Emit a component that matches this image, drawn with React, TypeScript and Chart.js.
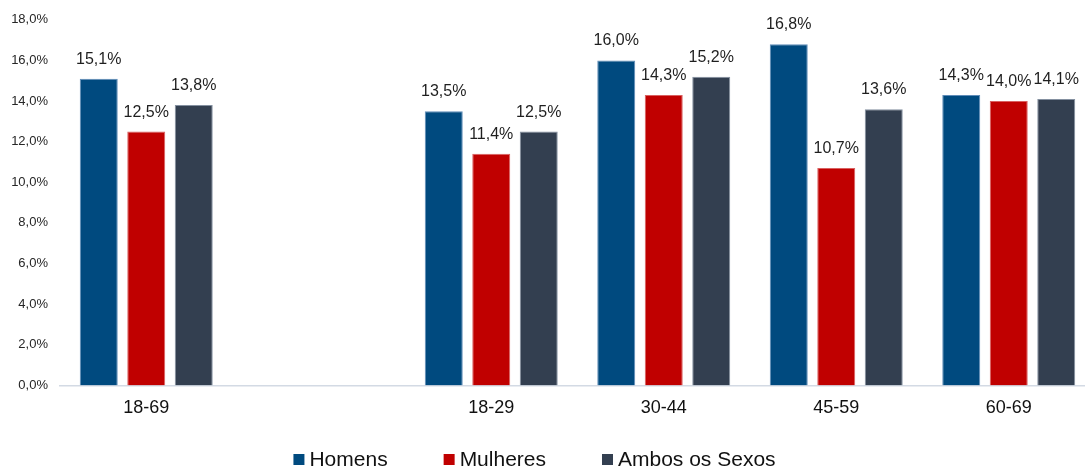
import React, { useEffect, useRef } from "react";
import { Chart, registerables } from "chart.js";

Chart.register(...registerables);

const categories = ["18-69", "", "18-29", "30-44", "45-59", "60-69"];
const homens = [15.1, null, 13.5, 16.0, 16.8, 14.3];
const mulheres = [12.5, null, 11.4, 14.3, 10.7, 14.0];
const ambos = [13.8, null, 12.5, 15.2, 13.6, 14.1];
const seriesNames = ["Homens", "Mulheres", "Ambos os Sexos"];
const yTicks = [0, 2, 4, 6, 8, 10, 12, 14, 16, 18];

const FONT = "'Liberation Sans', Arial, sans-serif";
const fmt = (v: number) => v.toFixed(1).replace(".", ",") + "%";

const dataLabelPlugin = {
  id: "dataLabels",
  afterDatasetsDraw(chart: any) {
    const ctx = chart.ctx;
    ctx.save();
    ctx.font = `16px ${FONT}`;
    ctx.fillStyle = "#1f1f1f";
    ctx.textAlign = "center";
    ctx.textBaseline = "alphabetic";
    chart.data.datasets.forEach((ds: any, i: number) => {
      const meta = chart.getDatasetMeta(i);
      meta.data.forEach((el: any, j: number) => {
        const v = ds.data[j];
        if (v === null || v === undefined) return;
        ctx.fillText(fmt(v), el.x, el.y - 15);
      });
    });
    ctx.restore();
  },
};

const legendPlugin = {
  id: "customLegend",
  afterDraw(chart: any) {
    const ctx = chart.ctx;
    ctx.save();
    ctx.font = `21px ${FONT}`;
    const box = 11;
    const gap = 5;
    const spacing = 56;
    const items = chart.data.datasets.map((ds: any) => ({
      label: ds.label,
      color: ds.backgroundColor,
      w: box + gap + ctx.measureText(ds.label).width,
    }));
    const total =
      items.reduce((s: number, it: any) => s + it.w, 0) + spacing * (items.length - 1);
    let x = 534.5 - total / 2;
    const baseline = 466;
    items.forEach((it: any) => {
      ctx.fillStyle = it.color;
      ctx.fillRect(x, 454, box, box);
      ctx.fillStyle = "#111";
      ctx.textAlign = "left";
      ctx.textBaseline = "alphabetic";
      ctx.fillText(it.label, x + box + gap, baseline);
      x += it.w + spacing;
    });
    ctx.restore();
  },
};

export default function App() {
  const ref = useRef<HTMLCanvasElement | null>(null);
  useEffect(() => {
    if (!ref.current) return;
    const chart = new Chart(ref.current, {
      type: "bar",
      data: {
        labels: categories,
        datasets: [
          {
            label: seriesNames[0],
            data: homens,
            backgroundColor: "#004A7F",
            borderColor: "#5F8CB8",
            borderWidth: 1,
          },
          {
            label: seriesNames[1],
            data: mulheres,
            backgroundColor: "#C00000",
            borderColor: "#D96060",
            borderWidth: 1,
          },
          {
            label: seriesNames[2],
            data: ambos,
            backgroundColor: "#333F50",
            borderColor: "#8490A0",
            borderWidth: 1,
          },
        ],
      },
      options: {
        responsive: false,
        animation: false,
        categoryPercentage: 0.826,
        barPercentage: 0.8,
        layout: { padding: { top: 17, bottom: 37, left: 0, right: 5 } },
        plugins: {
          legend: { display: false },
          tooltip: { enabled: false },
        },
        scales: {
          x: {
            grid: { display: false, drawTicks: false },
            border: { display: true, color: "#D3DAE4", width: 1.5 },
            ticks: {
              color: "#111",
              font: { family: FONT, size: 18 },
              padding: 12,
              maxRotation: 0,
              autoSkip: false,
            },
          },
          y: {
            min: 0,
            max: 18,
            afterFit: (s: any) => {
              s.width = 60;
            },
            afterBuildTicks: (s: any) => {
              s.ticks = yTicks.map((v) => ({ value: v }));
            },
            grid: { display: false, drawTicks: false },
            border: { display: false },
            ticks: {
              color: "#262626",
              font: { family: FONT, size: 13 },
              padding: 12,
              callback: (v: any) => fmt(Number(v)),
            },
          },
        },
      },
      plugins: [dataLabelPlugin, legendPlugin],
    });
    return () => chart.destroy();
  }, []);
  return (
    <div
      style={{
        position: "fixed",
        left: 0,
        top: 0,
        width: 1085,
        height: 468,
        overflow: "hidden",
        background: "#fff",
      }}
    >
      <canvas ref={ref} width={1100} height={468} style={{ display: "block" }} />
    </div>
  );
}
